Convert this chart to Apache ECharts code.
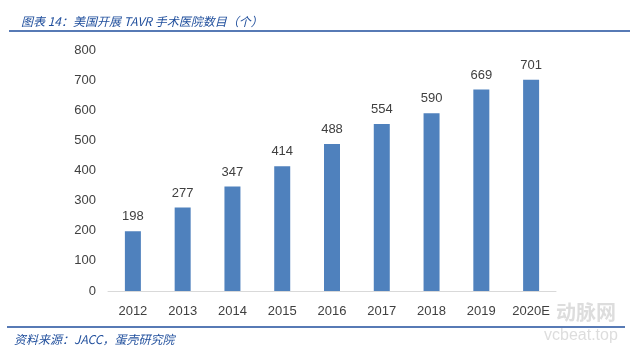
<!DOCTYPE html>
<html>
<head>
<meta charset="utf-8">
<script src="https://cdn.jsdelivr.net/npm/echarts@6/dist/echarts.min.js"></script>
<style>
  html, body { margin: 0; padding: 0; background: #fff; }
  #chart { width: 635px; height: 353px; }
</style>
</head>
<body>
<div id="chart"></div>
<script>
// 美国开展 TAVR 手术医院数目
var years = ['2012', '2013', '2014', '2015', '2016', '2017', '2018', '2019', '2020E']
var hospitals = [198, 277, 347, 414, 488, 554, 590, 669, 701]
var yTicks = [0, 100, 200, 300, 400, 500, 600, 700, 800]

var chart = echarts.init(document.getElementById('chart'))
var blue = '#1f4e9c'
var font = '"Noto Sans CJK SC", "Liberation Sans", sans-serif'

chart.setOption({
  animation: false,
  title: {
    text: '图表 14：美国开展 TAVR 手术医院数目（个）',
    left: 16,
    top: 10,
    textStyle: {
      color: blue,
      fontSize: 12,
      fontStyle: 'italic',
      fontWeight: 'normal',
      fontFamily: font
    }
  },
  grid: {
    left: 108,
    right: 79,
    top: 50,
    bottom: 62
  },
  xAxis: {
    type: 'category',
    data: years,
    axisTick: { show: false },
    axisLine: { lineStyle: { color: '#d9d9d9', width: 1 } },
    axisLabel: { color: '#404040', fontSize: 13, margin: 14, fontFamily: '"Liberation Sans", sans-serif' }
  },
  yAxis: {
    type: 'value',
    min: yTicks[0],
    max: yTicks[yTicks.length - 1],
    interval: 100,
    splitLine: { show: false },
    axisLine: { show: false },
    axisTick: { show: false },
    axisLabel: { color: '#404040', fontSize: 13, margin: 12, fontFamily: '"Liberation Sans", sans-serif' }
  },
  series: [{
    type: 'bar',
    data: hospitals,
    barWidth: 16,
    itemStyle: { color: '#4f81bd' },
    label: {
      show: true,
      position: 'top',
      distance: 8,
      color: '#404040',
      fontSize: 13,
      fontFamily: '"Liberation Sans", sans-serif'
    }
  }],
  graphic: [
    { type: 'line', shape: { x1: 9, y1: 31, x2: 630, y2: 31 }, style: { stroke: blue, lineWidth: 1.5 } },
    { type: 'line', shape: { x1: 7, y1: 327, x2: 625, y2: 327 }, style: { stroke: blue, lineWidth: 1.5 } },
    {
      type: 'text', left: 14, top: 333,
      style: { text: '资料来源：JACC，蛋壳研究院', fill: blue, font: 'italic 12px ' + font }
    },
    {
      type: 'text', left: 556, top: 302,
      style: { text: '动脉网', fill: 'rgba(180,180,180,0.45)', font: 'bold 20px ' + font }
    },
    {
      type: 'text', left: 544, top: 328,
      style: { text: 'vcbeat.top', fill: 'rgba(180,180,180,0.45)', font: '16px "Liberation Sans", sans-serif' }
    }
  ]
})
</script>
</body>
</html>
